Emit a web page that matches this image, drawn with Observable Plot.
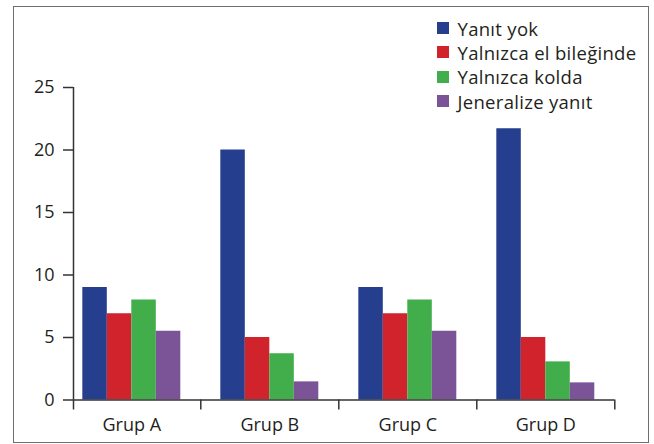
<!DOCTYPE html>
<html>
<head>
<meta charset="utf-8">
<script src="https://cdn.jsdelivr.net/npm/d3@7"></script>
<script src="https://cdn.jsdelivr.net/npm/@observablehq/plot@0.6"></script>
<style>
  html, body { margin: 0; padding: 0; background: #fff; }
  #wrap { position: relative; width: 654px; height: 444px; font-family: "Open Sans", sans-serif; }
  #frame { position: absolute; left: 12.5px; top: 5.5px; width: 634px; height: 435px; border: 1.5px solid #6f6f6f; }
  #legend { position: absolute; left: 437px; top: 16px; font-size: 18.5px; color: #231f20; letter-spacing: 0.3px; }
  #legend .row { display: flex; align-items: center; height: 24.3px; white-space: nowrap; }
  #legend .sw { width: 12px; height: 12px; margin-right: 8.5px; flex: none; }
  #chart { position: absolute; left: 0; top: 0; }
</style>
</head>
<body>
<div id="wrap">
  <div id="chart"></div>
  <div id="frame"></div>
  <div id="legend"></div>
</div>
<script>
const groups = ["Grup A", "Grup B", "Grup C", "Grup D"];
const seriesNames = ["Yanıt yok", "Yalnızca el bileğinde", "Yalnızca kolda", "Jeneralize yanıt"];
const yanitYok = [9.0, 20.0, 9.0, 21.7];
const yalnizcaElBileginde = [6.9, 5.0, 6.9, 5.0];
const yalnizcaKolda = [8.0, 3.7, 8.0, 3.05];
const jeneralizeYanit = [5.5, 1.45, 5.5, 1.37];
const seriesColors = ["#253f8e", "#d1232b", "#41ae4b", "#7a5497"];
const yTicks = [0, 5, 10, 15, 20, 25];

const seriesValues = [yanitYok, yalnizcaElBileginde, yalnizcaKolda, jeneralizeYanit];
const rows = [];
groups.forEach((g, gi) => {
  seriesValues.forEach((vals, si) => {
    rows.push({group: g, gi, si, series: seriesNames[si], value: vals[gi], color: seriesColors[si]});
  });
});

const barW = 0.1775;               // width of one bar in group units
const xStart = -0.4225;            // where the axes begin
const xEnd = groups.length - 0.5;
const boundaries = [xStart, ...groups.slice(1).map((_, i) => i + 0.5), xEnd];

const chart = Plot.plot({
  width: 654,
  height: 444,
  marginLeft: 73,
  marginRight: 39.7,
  marginTop: 87,
  marginBottom: 44.5,
  style: {fontFamily: "'Open Sans', sans-serif", fontSize: "18px", color: "#231f20", background: "transparent"},
  x: {type: "linear", domain: [xStart, xEnd], axis: null},
  y: {domain: [0, 25], axis: null},
  color: {type: "identity"},
  marks: [
    Plot.rectY(rows, {
      x1: d => d.gi + (d.si - 2) * barW,
      x2: d => d.gi + (d.si - 1) * barW,
      y1: 0,
      y2: "value",
      fill: "color"
    }),
    Plot.axisY({ticks: yTicks, tickSize: 10, tickPadding: 9, stroke: "#333", strokeWidth: 1.5, fill: "#231f20", fontSize: 18, label: null}),
    Plot.ruleX([xStart], {y1: 0, y2: 25, stroke: "#333", strokeWidth: 1.5}),
    Plot.ruleY([0], {x1: xStart, x2: xEnd, stroke: "#333", strokeWidth: 1.5}),
    Plot.axisX({ticks: boundaries, tickSize: 10, tickFormat: () => "", stroke: "#333", strokeWidth: 1.5, label: null}),
    Plot.axisX({ticks: groups.map((_, i) => i), tickSize: 0, tickPadding: 18, tickFormat: i => groups[i], fill: "#231f20", fontSize: 18, label: null})
  ]
});
document.getElementById("chart").appendChild(chart);

const legend = document.getElementById("legend");
seriesNames.forEach((name, i) => {
  const row = document.createElement("div");
  row.className = "row";
  const sw = document.createElement("span");
  sw.className = "sw";
  sw.style.background = seriesColors[i];
  const t = document.createElement("span");
  t.textContent = name;
  row.appendChild(sw);
  row.appendChild(t);
  legend.appendChild(row);
});
</script>
</body>
</html>
